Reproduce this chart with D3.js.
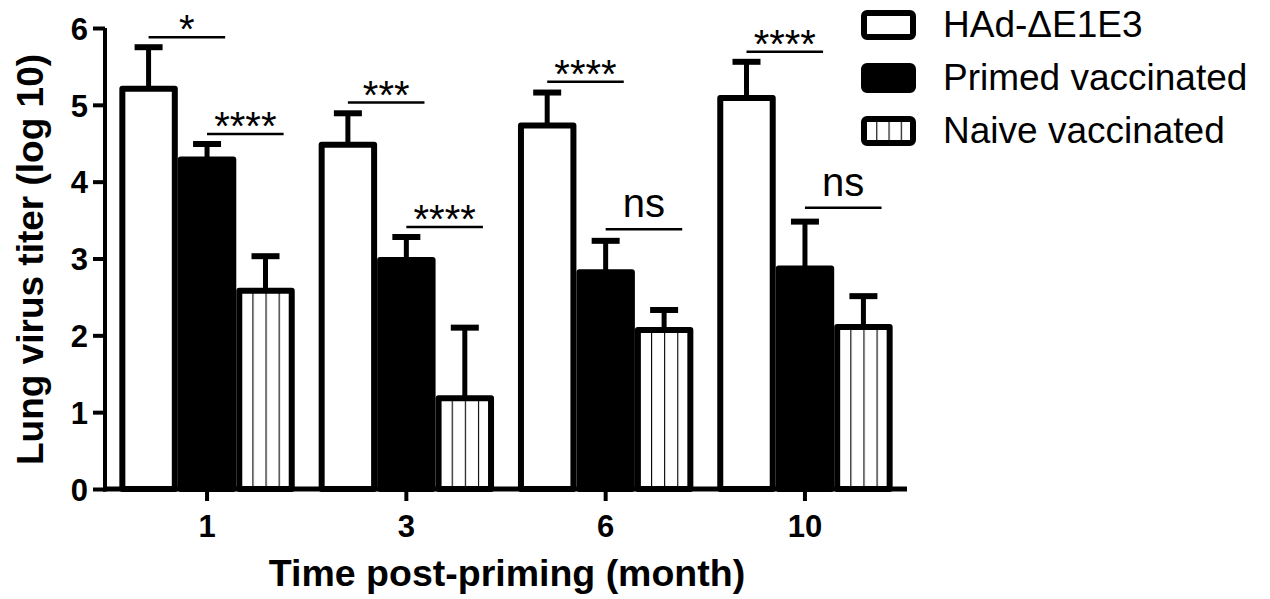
<!DOCTYPE html>
<html>
<head>
<meta charset="utf-8">
<script src="https://cdn.jsdelivr.net/npm/d3@7"></script>
<style>
  body { margin: 0; background: #fff; }
  svg { font-family: Arial, "Liberation Sans", sans-serif; }
</style>
</head>
<body>
<div id="chart"></div>
<script>
// data
const months = ["1", "3", "6", "10"];
const groups = ["HAd-\u0394E1E3", "Primed vaccinated", "Naive vaccinated"];
const hadMean    = [5.21, 4.48, 4.73, 5.09];
const hadErr     = [0.54, 0.41, 0.43, 0.47];
const primedMean = [4.29, 2.98, 2.82, 2.87];
const primedErr  = [0.20, 0.30, 0.41, 0.61];
const naiveMean  = [2.58, 1.18, 2.07, 2.11];
const naiveErr   = [0.45, 0.92, 0.26, 0.40];
const yTicks = [0, 1, 2, 3, 4, 5, 6];

// significance bars: month, first group, second group, height, label
const sigMonth = ["1", "1", "3", "3", "6", "6", "10", "10"];
const sigFrom  = [0, 1, 0, 1, 0, 1, 0, 1];
const sigLevel = [5.88, 4.62, 5.03, 3.41, 5.30, 3.38, 5.69, 3.66];
const sigText  = ["*", "****", "***", "****", "****", "ns", "****", "ns"];

const width = 1270, height = 599;
const means = [hadMean, primedMean, naiveMean];
const errs = [hadErr, primedErr, naiveErr];

const rows = [];
months.forEach((m, i) => {
    groups.forEach((g, j) => rows.push({ month: m, group: g, idx: j, mean: means[j][i], err: errs[j][i] }));
});

const svg = d3.select("#chart").append("svg")
    .attr("width", width).attr("height", height);

const defs = svg.append("defs");
const pat = defs.append("pattern")
    .attr("id", "stripes")
    .attr("patternUnits", "objectBoundingBox")
    .attr("width", 0.25).attr("height", 1);
pat.append("rect").attr("width", 100).attr("height", 1000).attr("fill", "#fff");
pat.append("rect").attr("x", -1.1).attr("width", 2.2).attr("height", 1000).attr("fill", "#000");

const x0 = d3.scaleBand().domain(months).range([105, 907])
    .paddingInner(0.12).paddingOuter(0.072);
const x1 = d3.scaleBand().domain(groups).range([0, x0.bandwidth()]);
const y = d3.scaleLinear().domain([0, 6]).range([489, 28]);

const fills = ["#fff", "#000", "url(#stripes)"];
const sw = 6;

// bars
svg.append("g").selectAll("rect")
    .data(rows).join("rect")
    .attr("x", d => x0(d.month) + x1(d.group) + sw / 2)
    .attr("y", d => y(d.mean))
    .attr("width", x1.bandwidth() - sw)
    .attr("height", d => y(0) - y(d.mean))
    .attr("fill", d => fills[d.idx])
    .attr("stroke", "#000")
    .attr("stroke-width", sw)
    .attr("stroke-linejoin", "round");

// error bars (upper only)
const eb = svg.append("g").selectAll("g").data(rows).join("g");
eb.append("line")
    .attr("x1", d => x0(d.month) + x1(d.group) + x1.bandwidth() / 2)
    .attr("x2", d => x0(d.month) + x1(d.group) + x1.bandwidth() / 2)
    .attr("y1", d => y(d.mean))
    .attr("y2", d => y(d.mean + d.err))
    .attr("stroke", "#000").attr("stroke-width", 5);
eb.append("line")
    .attr("x1", d => x0(d.month) + x1(d.group) + x1.bandwidth() / 2 - 14)
    .attr("x2", d => x0(d.month) + x1(d.group) + x1.bandwidth() / 2 + 14)
    .attr("y1", d => y(d.mean + d.err))
    .attr("y2", d => y(d.mean + d.err))
    .attr("stroke", "#000").attr("stroke-width", 6);

// axes
const yAxis = svg.append("g")
    .attr("transform", "translate(105,0)")
    .call(d3.axisLeft(y).tickValues(yTicks).tickFormat(d3.format("d"))
        .tickSize(12).tickSizeOuter(0).tickPadding(5));
yAxis.select(".domain").attr("stroke-width", 4).attr("d", `M0,${y(6)}V${y(0) + 2.5}`);
yAxis.selectAll(".tick line").attr("stroke-width", 4);
yAxis.selectAll(".tick text")
    .attr("font-size", 31).attr("font-weight", "bold").attr("fill", "#000")
    .attr("dy", "0.36em")
    .attr("font-family", "Arial, 'Liberation Sans', sans-serif");

const xAxis = svg.append("g")
    .attr("transform", `translate(0,${y(0)})`)
    .call(d3.axisBottom(x0).tickSize(12).tickSizeOuter(0).tickPadding(14));
xAxis.select(".domain").attr("stroke-width", 5).attr("d", "M103,0H907");
xAxis.selectAll(".tick line").attr("stroke-width", 4);
xAxis.selectAll(".tick text")
    .attr("font-size", 31).attr("font-weight", "bold").attr("fill", "#000")
    .attr("font-family", "Arial, 'Liberation Sans', sans-serif");

// axis titles
svg.append("text")
    .attr("transform", `translate(43,${(y(0) + y(6)) / 2 + 1}) rotate(-90)`)
    .attr("text-anchor", "middle")
    .attr("font-size", 37).attr("font-weight", "bold")
    .text("Lung virus titer (log 10)");
svg.append("text")
    .attr("x", 507).attr("y", 586)
    .attr("text-anchor", "middle")
    .attr("font-size", 37.5).attr("font-weight", "bold")
    .text("Time post-priming (month)");

// significance brackets
const sig = sigMonth.map((m, i) => ({ month: m, from: sigFrom[i], level: sigLevel[i], label: sigText[i] }));
const barW = x1.bandwidth();
const sg = svg.append("g").selectAll("g").data(sig).join("g");
sg.append("line")
    .attr("x1", d => x0(d.month) + barW * (d.from + 0.5))
    .attr("x2", d => x0(d.month) + barW * (d.from + 1.5) + barW * 0.31)
    .attr("y1", d => y(d.level)).attr("y2", d => y(d.level))
    .attr("stroke", "#000").attr("stroke-width", 2.6);
sg.append("text")
    .attr("x", d => x0(d.month) + barW * (d.from + 1) + barW * 0.155)
    .attr("y", d => y(d.level) + (d.label === "ns" ? -12 : 6))
    .attr("text-anchor", "middle")
    .attr("font-size", 40)
    .text(d => d.label);

// legend
const leg = svg.append("g").selectAll("g").data(groups).join("g")
    .attr("transform", (d, i) => `translate(861,${25 + i * 53})`);
leg.append("rect")
    .attr("x", 3).attr("y", -12)
    .attr("width", 49).attr("height", 24)
    .attr("rx", 3)
    .attr("fill", (d, i) => fills[i])
    .attr("stroke", "#000").attr("stroke-width", sw);
leg.append("text")
    .attr("x", 82).attr("y", 12)
    .attr("font-size", 37)
    .text(d => d);
</script>
</body>
</html>
